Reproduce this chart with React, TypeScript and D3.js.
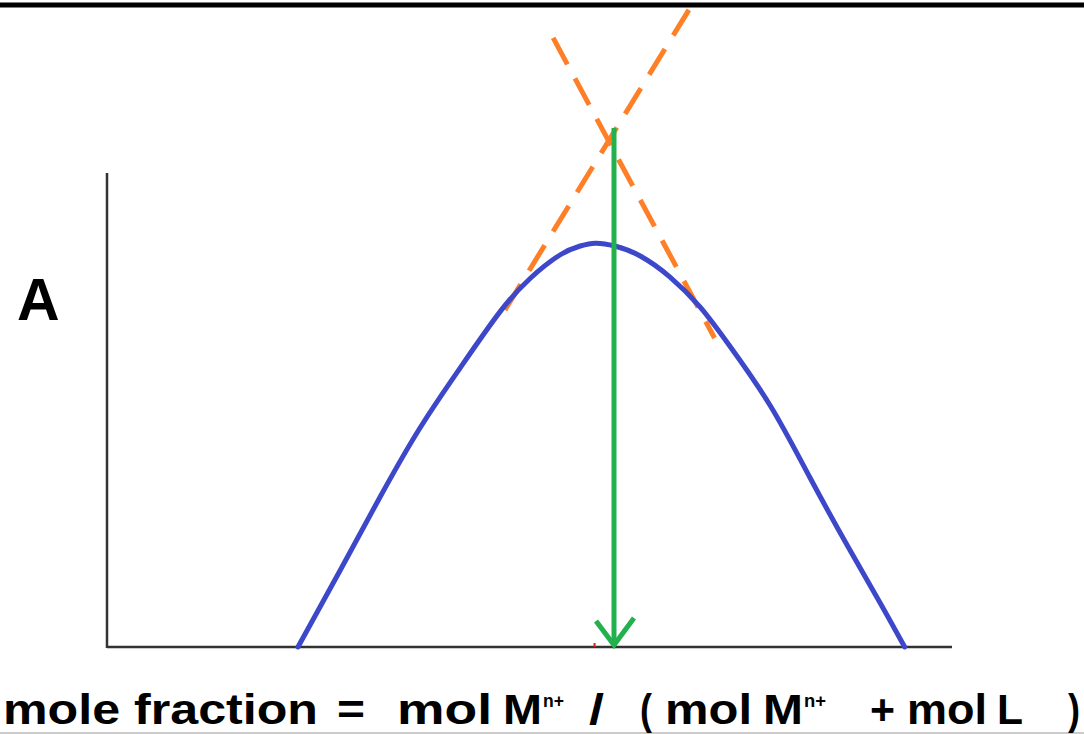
import React from "react";
import * as d3 from "d3";

// Absorbance curve of a continuous-variation (Job's) plot
const moleFraction = [0.226, 0.276, 0.323, 0.37, 0.418, 0.465, 0.501, 0.536, 0.56, 0.578, 0.601, 0.631, 0.666, 0.702, 0.737, 0.785, 0.832, 0.879, 0.915, 0.944];
const absorbance = [0, 0.162, 0.316, 0.461, 0.589, 0.707, 0.778, 0.827, 0.846, 0.852, 0.846, 0.825, 0.781, 0.717, 0.635, 0.509, 0.357, 0.205, 0.093, 0];

// Tangent extrapolations of the two limbs
const leftTangentX = [0.471, 0.692];
const leftTangentY = [0.711, 1.354];
const rightTangentX = [0.528, 0.719];
const rightTangentY = [1.285, 0.652];

// Stoichiometric point read at the tangent intersection
const stoichX = 0.6;
const stoichTop = 1.095;

const yLabel = "A";
const xLabelParts = [
  { text: "mole fraction", x: 3, w: 315, sup: false },
  { text: "=", x: 337, w: 28, sup: false },
  { text: "mol", x: 397, w: 95, sup: false },
  { text: "M", x: 503, w: 39, sup: false },
  { text: "n+", x: 543, w: 21, sup: true },
  { text: "/", x: 589, w: 15, sup: false },
  { text: "(", x: 640, w: 12, sup: false },
  { text: "mol", x: 665, w: 87, sup: false },
  { text: "M", x: 763, w: 40, sup: false },
  { text: "n+", x: 804, w: 22, sup: true },
  { text: "+", x: 870, w: 25, sup: false },
  { text: "mol", x: 907, w: 80, sup: false },
  { text: "L", x: 997, w: 26, sup: false },
  { text: ")", x: 1068, w: 12, sup: false },
];

const W = 1084;
const H = 734;
const axisLeft = 107;
const axisRight = 952;
const axisBottom = 647;
const axisTop = 173;

const BLUE = "#3d47c9";
const ORANGE = "#ff7f27";
const GREEN = "#22b14c";

export default function App() {
  const x = d3.scaleLinear().domain([0, 1]).range([axisLeft, axisRight]);
  const y = d3.scaleLinear().domain([0, 1]).range([axisBottom, axisTop]);

  const curvePts: [number, number][] = moleFraction.map((m, i) => [m, absorbance[i]]);
  const line = d3
    .line<[number, number]>()
    .x((d) => x(d[0]))
    .y((d) => y(d[1]))
    .curve(d3.curveNatural);
  const straight = d3
    .line<[number, number]>()
    .x((d) => x(d[0]))
    .y((d) => y(d[1]));

  const leftT: [number, number][] = leftTangentX.map((v, i) => [v, leftTangentY[i]]);
  const rightT: [number, number][] = rightTangentX.map((v, i) => [v, rightTangentY[i]]);

  const gx = x(stoichX);
  const gTop = y(stoichTop);
  const gBottom = y(0) - 2;
  const head = 24;

  const font = "'Liberation Sans', Arial, Helvetica, sans-serif";

  return (
    <svg
      width={W}
      height={H}
      style={{ position: "absolute", left: 0, top: 0, background: "#fff" }}
    >
      <rect x={0} y={0} width={W} height={H} fill="#fff" />
      {/* frame edges */}
      <line x1={0} x2={W} y1={5} y2={5} stroke="#000" strokeWidth={5} />
      <line x1={0} x2={W} y1={733} y2={733} stroke="#999" strokeWidth={1} />

      {/* axes */}
      <line x1={axisLeft} x2={axisLeft} y1={axisTop} y2={axisBottom + 1} stroke="#333" strokeWidth={2.5} />
      <line x1={axisLeft} x2={axisRight} y1={axisBottom} y2={axisBottom} stroke="#333" strokeWidth={2.5} />
      <line x1={x(0.577)} x2={x(0.577)} y1={axisBottom - 4} y2={axisBottom} stroke="#e02020" strokeWidth={2} />

      {/* tangents */}
      <path d={straight(leftT) || ""} fill="none" stroke={ORANGE} strokeWidth={5} strokeDasharray="30 16" />
      <path d={straight(rightT) || ""} fill="none" stroke={ORANGE} strokeWidth={5} strokeDasharray="30 16" />

      {/* absorbance curve */}
      <path d={line(curvePts) || ""} fill="none" stroke={BLUE} strokeWidth={5} strokeLinecap="round" />

      {/* stoichiometry arrow */}
      <line x1={gx} x2={gx} y1={gTop} y2={gBottom} stroke={GREEN} strokeWidth={5} />
      <polyline
        points={`${gx - 18},${gBottom - head} ${gx},${gBottom} ${gx + 20},${gBottom - head - 3}`}
        fill="none"
        stroke={GREEN}
        strokeWidth={5}
        strokeLinejoin="miter"
      />

      {/* labels */}
      <text x={17} y={320} fontFamily={font} fontWeight="bold" fontSize={59} fill="#000">
        {yLabel}
      </text>
      {xLabelParts.map((p, i) => (
        <text
          key={i}
          x={p.x}
          y={p.sup ? 707 : 724}
          fontFamily={font}
          fontWeight="bold"
          fontSize={p.sup ? 19 : 42}
          fill="#000"
          textLength={p.w}
          lengthAdjust="spacingAndGlyphs"
        >
          {p.text}
        </text>
      ))}
    </svg>
  );
}
